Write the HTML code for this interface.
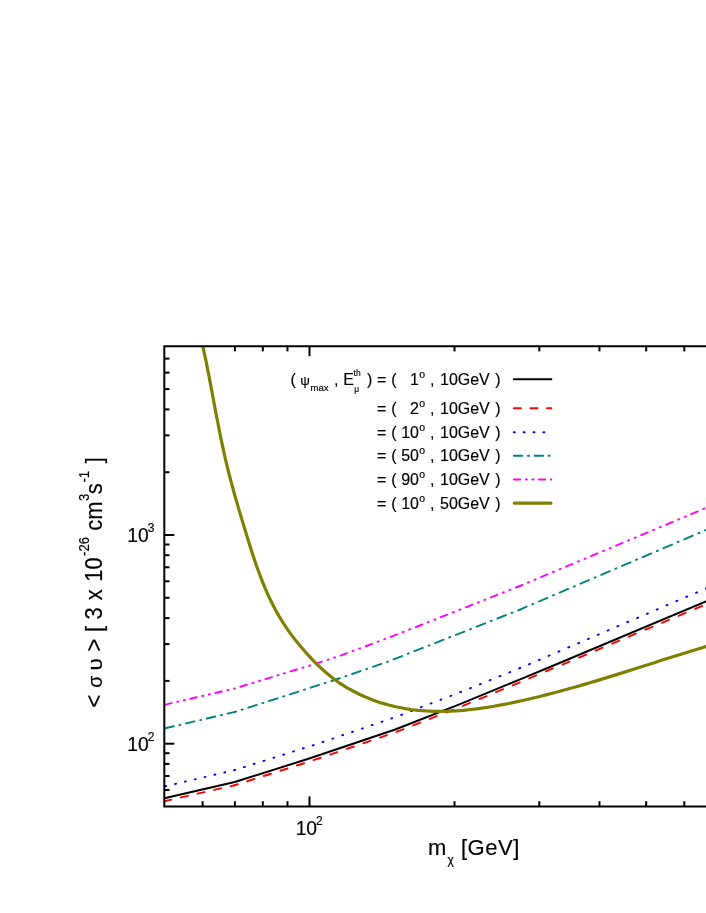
<!DOCTYPE html>
<html><head><meta charset="utf-8"><title>chart</title>
<style>
html,body{margin:0;padding:0;background:#fff;}
body{width:706px;height:913px;overflow:hidden;font-family:"Liberation Sans",sans-serif;}
#wrap{position:absolute;left:0;top:0;width:706px;height:913px;will-change:transform;}
svg{display:block;}
text{font-family:"Liberation Sans",sans-serif;fill:#000;stroke:#000;stroke-width:0.18px;}
</style></head><body><div id="wrap">
<svg width="706" height="913" viewBox="0 0 706 913">
<defs><clipPath id="plot"><rect x="164.3" y="346.2" width="635.7" height="460.2"/></clipPath></defs>

<g clip-path="url(#plot)" fill="none" stroke-linejoin="round">
<path d="M164.30,704.80 L235.00,688.40" pathLength="70.70" stroke="#ff00ff" stroke-width="1.9" stroke-dasharray="6.45 5.48 1.08 5.48 1.08 5.48" stroke-dashoffset="-0.95" stroke-linecap="round"/>
<path d="M235.00,688.40 L310.00,665.50" pathLength="75.00" stroke="#ff00ff" stroke-width="1.9" stroke-dasharray="6.45 5.48 1.08 5.48 1.08 5.48" stroke-dashoffset="69.75" stroke-linecap="round"/>
<path d="M310.00,665.50 L340.00,655.80" pathLength="30.00" stroke="#ff00ff" stroke-width="1.9" stroke-dasharray="6.45 5.48 1.08 5.48 1.08 5.48" stroke-dashoffset="144.75" stroke-linecap="round"/>
<path d="M340.00,655.80 L390.00,637.20" pathLength="50.00" stroke="#ff00ff" stroke-width="1.9" stroke-dasharray="6.45 5.48 1.08 5.48 1.08 5.48" stroke-dashoffset="174.75" stroke-linecap="round"/>
<path d="M390.00,637.20 L520.00,585.90" pathLength="130.00" stroke="#ff00ff" stroke-width="1.9" stroke-dasharray="6.45 5.48 1.08 5.48 1.08 5.48" stroke-dashoffset="224.75" stroke-linecap="round"/>
<path d="M520.00,585.90 L706.00,507.90" pathLength="186.00" stroke="#ff00ff" stroke-width="1.9" stroke-dasharray="6.45 5.48 1.08 5.48 1.08 5.48" stroke-dashoffset="354.75" stroke-linecap="round"/>
<path d="M706.00,507.90 L712.00,505.38" pathLength="6.00" stroke="#ff00ff" stroke-width="1.9" stroke-dasharray="6.45 5.48 1.08 5.48 1.08 5.48" stroke-dashoffset="540.75" stroke-linecap="round"/>
<path d="M164.30,728.50 L235.00,711.90" pathLength="70.70" stroke="#008080" stroke-width="1.9" stroke-dasharray="8.50 5.60 1.06 5.60" stroke-dashoffset="-0.95" stroke-linecap="round"/>
<path d="M235.00,711.90 L310.00,687.90" pathLength="75.00" stroke="#008080" stroke-width="1.9" stroke-dasharray="8.50 5.60 1.06 5.60" stroke-dashoffset="69.75" stroke-linecap="round"/>
<path d="M310.00,687.90 L340.00,678.20" pathLength="30.00" stroke="#008080" stroke-width="1.9" stroke-dasharray="8.50 5.60 1.06 5.60" stroke-dashoffset="144.75" stroke-linecap="round"/>
<path d="M340.00,678.20 L388.60,661.40" pathLength="48.60" stroke="#008080" stroke-width="1.9" stroke-dasharray="8.50 5.60 1.06 5.60" stroke-dashoffset="174.75" stroke-linecap="round"/>
<path d="M388.60,661.40 L520.00,609.60" pathLength="131.40" stroke="#008080" stroke-width="1.9" stroke-dasharray="8.50 5.60 1.06 5.60" stroke-dashoffset="223.35" stroke-linecap="round"/>
<path d="M520.00,609.60 L706.00,530.00" pathLength="186.00" stroke="#008080" stroke-width="1.9" stroke-dasharray="8.50 5.60 1.06 5.60" stroke-dashoffset="354.75" stroke-linecap="round"/>
<path d="M706.00,530.00 L712.00,527.43" pathLength="6.00" stroke="#008080" stroke-width="1.9" stroke-dasharray="8.50 5.60 1.06 5.60" stroke-dashoffset="540.75" stroke-linecap="round"/>
<path d="M164.30,786.50 L234.80,770.00" pathLength="70.50" stroke="#0000ff" stroke-width="1.9" stroke-dasharray="1.00 8.83" stroke-dashoffset="-0.95" stroke-linecap="round"/>
<path d="M234.80,770.00 L314.00,745.00" pathLength="79.20" stroke="#0000ff" stroke-width="1.9" stroke-dasharray="1.00 8.83" stroke-dashoffset="69.55" stroke-linecap="round"/>
<path d="M314.00,745.00 L395.20,717.20" pathLength="81.20" stroke="#0000ff" stroke-width="1.9" stroke-dasharray="1.00 8.83" stroke-dashoffset="148.75" stroke-linecap="round"/>
<path d="M395.20,717.20 L460.00,692.30" pathLength="64.80" stroke="#0000ff" stroke-width="1.9" stroke-dasharray="1.00 8.83" stroke-dashoffset="229.95" stroke-linecap="round"/>
<path d="M460.00,692.30 L520.00,668.10" pathLength="60.00" stroke="#0000ff" stroke-width="1.9" stroke-dasharray="1.00 8.83" stroke-dashoffset="294.75" stroke-linecap="round"/>
<path d="M520.00,668.10 L550.00,655.30" pathLength="30.00" stroke="#0000ff" stroke-width="1.9" stroke-dasharray="1.00 8.83" stroke-dashoffset="354.75" stroke-linecap="round"/>
<path d="M550.00,655.30 L706.00,588.50" pathLength="156.00" stroke="#0000ff" stroke-width="1.9" stroke-dasharray="1.00 8.83" stroke-dashoffset="384.75" stroke-linecap="round"/>
<path d="M706.00,588.50 L712.00,585.93" pathLength="6.00" stroke="#0000ff" stroke-width="1.9" stroke-dasharray="1.00 8.83" stroke-dashoffset="540.75" stroke-linecap="round"/>
<path d="M164.30,801.20 L234.80,785.20" pathLength="70.50" stroke="#ff0000" stroke-width="1.9" stroke-dasharray="7.10 9.49" stroke-dashoffset="0.05" stroke-linecap="round"/>
<path d="M234.80,785.20 L310.00,761.40" pathLength="75.20" stroke="#ff0000" stroke-width="1.9" stroke-dasharray="7.10 9.49" stroke-dashoffset="70.55" stroke-linecap="round"/>
<path d="M310.00,761.40 L395.20,732.40" pathLength="85.20" stroke="#ff0000" stroke-width="1.9" stroke-dasharray="7.10 9.49" stroke-dashoffset="145.75" stroke-linecap="round"/>
<path d="M395.20,732.40 L454.00,709.50" pathLength="58.80" stroke="#ff0000" stroke-width="1.9" stroke-dasharray="7.10 9.49" stroke-dashoffset="230.95" stroke-linecap="round"/>
<path d="M454.00,709.50 L520.00,682.30" pathLength="66.00" stroke="#ff0000" stroke-width="1.9" stroke-dasharray="7.10 9.49" stroke-dashoffset="289.75" stroke-linecap="round"/>
<path d="M520.00,682.30 L706.00,604.30" pathLength="186.00" stroke="#ff0000" stroke-width="1.9" stroke-dasharray="7.10 9.49" stroke-dashoffset="355.75" stroke-linecap="round"/>
<path d="M706.00,604.30 L712.00,601.78" pathLength="6.00" stroke="#ff0000" stroke-width="1.9" stroke-dasharray="7.10 9.49" stroke-dashoffset="541.75" stroke-linecap="round"/>
<path d="M164.3,798.3 L234.8,782.0 L310.0,758.3 L395.2,729.5 L460.0,704.1 L520.0,679.4 L550.0,667.0 L706.0,601.3 L712.0,598.8" stroke="#000" stroke-width="2"/>
<path d="M200.4,335.2 L202.8,346.3 L204.4,353.7 L206.0,361.2 L207.5,368.6 L209.0,376.1 L210.4,383.6 L211.8,391.0 L213.2,398.5 L214.6,406.0 L216.0,413.5 L217.5,421.0 L218.9,428.4 L220.4,435.9 L222.0,443.3 L223.6,450.8 L225.2,458.2 L227.0,465.6 L228.8,473.0 L230.7,480.3 L232.7,487.6 L234.7,495.0 L236.8,502.3 L238.9,509.6 L241.1,516.8 L243.3,524.1 L245.5,531.4 L247.7,538.7 L250.0,546.0 L252.3,553.3 L254.7,560.5 L257.2,567.7 L259.8,574.8 L262.5,581.9 L265.4,588.9 L268.5,595.9 L271.8,602.7 L275.3,609.5 L279.0,616.1 L283.0,622.6 L287.1,628.9 L291.6,635.1 L296.2,641.1 L301.1,647.0 L306.1,652.7 L311.2,658.3 L316.5,663.8 L322.0,669.0 L327.7,674.0 L333.6,678.7 L339.8,683.2 L346.3,687.3 L352.9,691.0 L359.8,694.5 L366.8,697.6 L374.0,700.4 L381.2,702.9 L388.5,705.0 L395.9,706.8 L403.3,708.3 L410.7,709.5 L418.2,710.3 L425.7,710.9 L433.2,711.3 L440.8,711.4 L448.3,711.2 L455.9,710.8 L463.5,710.3 L471.0,709.5 L478.6,708.6 L486.2,707.5 L493.7,706.3 L501.3,704.9 L508.8,703.5 L516.3,701.9 L523.8,700.2 L531.2,698.5 L538.7,696.7 L546.0,694.9 L553.4,693.0 L560.7,691.0 L568.1,689.0 L575.4,687.0 L582.7,684.9 L589.9,682.7 L597.2,680.6 L604.4,678.4 L611.7,676.1 L618.9,673.9 L626.2,671.6 L633.4,669.3 L640.6,667.0 L647.9,664.7 L655.1,662.4 L662.3,660.1 L669.6,657.8 L676.9,655.5 L684.2,653.2 L691.4,650.9 L698.8,648.7 L706.1,646.5 L717.1,643.1" stroke="#808000" stroke-width="3.2"/>
</g>
<g stroke="#000" stroke-width="2.0" fill="none" stroke-linecap="butt">
<path d="M711,346.2 L164.3,346.2 L164.3,806.4 L711,806.4" stroke-linejoin="miter"/>
<path d="M202.6,806.4 v-5.2"/>
<path d="M234.9,806.4 v-5.2"/>
<path d="M234.9,346.2 v5.2"/>
<path d="M262.8,806.4 v-5.2"/>
<path d="M262.8,346.2 v5.2"/>
<path d="M287.5,806.4 v-5.2"/>
<path d="M287.5,346.2 v5.2"/>
<path d="M309.5,806.4 v-10.0"/>
<path d="M309.5,346.2 v10.0"/>
<path d="M454.5,806.4 v-5.2"/>
<path d="M454.5,346.2 v5.2"/>
<path d="M539.3,806.4 v-5.2"/>
<path d="M539.3,346.2 v5.2"/>
<path d="M599.5,806.4 v-5.2"/>
<path d="M599.5,346.2 v5.2"/>
<path d="M646.2,806.4 v-5.2"/>
<path d="M646.2,346.2 v5.2"/>
<path d="M684.3,806.4 v-5.2"/>
<path d="M684.3,346.2 v5.2"/>
<path d="M164.3,790.0 h5.2"/>
<path d="M164.3,776.0 h5.2"/>
<path d="M164.3,763.9 h5.2"/>
<path d="M164.3,753.2 h5.2"/>
<path d="M164.3,743.7 h10.0"/>
<path d="M164.3,680.9 h5.2"/>
<path d="M164.3,644.1 h5.2"/>
<path d="M164.3,618.1 h5.2"/>
<path d="M164.3,597.8 h5.2"/>
<path d="M164.3,581.3 h5.2"/>
<path d="M164.3,567.3 h5.2"/>
<path d="M164.3,555.2 h5.2"/>
<path d="M164.3,544.5 h5.2"/>
<path d="M164.3,535.0 h10.0"/>
<path d="M164.3,472.2 h5.2"/>
<path d="M164.3,435.4 h5.2"/>
<path d="M164.3,409.4 h5.2"/>
<path d="M164.3,389.1 h5.2"/>
<path d="M164.3,372.6 h5.2"/>
<path d="M164.3,358.6 h5.2"/>
</g>
<text x="148.7" y="542.2" font-size="19.3" text-anchor="end">10</text><text x="147.7" y="532.2" font-size="12">3</text>
<text x="148.7" y="751.0" font-size="19.3" text-anchor="end">10</text><text x="147.7" y="741.0" font-size="12">2</text>
<text x="317.1" y="835.0" font-size="19.3" text-anchor="end">10</text><text x="316.1" y="825.0" font-size="12">2</text>
<text x="428" y="854.8" font-size="22" letter-spacing="0.5">m</text>
<text x="447.6" y="864.0" font-size="12">χ</text>
<text x="461" y="854.8" font-size="22" letter-spacing="0.5">[GeV]</text>
<g transform="translate(102.0,706.5) rotate(-90)">
<text transform="translate(-1.1,0) scale(0.94,1)" font-size="23.3" text-anchor="start">&lt;</text>
<text transform="translate(18.8,0) scale(1,1)" font-size="19.5" text-anchor="start">σ</text>
<text transform="translate(36.0,0) scale(1.15,1)" font-size="19.5" text-anchor="start">υ</text>
<text transform="translate(54.9,0) scale(0.94,1)" font-size="23.3" text-anchor="start">&gt;</text>
<text transform="translate(74.4,0) scale(0.94,1)" font-size="23.3" text-anchor="start">[</text>
<text transform="translate(87.1,0) scale(0.94,1)" font-size="23.3" text-anchor="start">3</text>
<text transform="translate(106.3,0) scale(0.94,1)" font-size="23.3" text-anchor="start">x</text>
<text transform="translate(149.1,0) scale(0.94,1)" font-size="23.3" text-anchor="end">10</text>
<text transform="translate(150.5,-13) scale(0.94,1)" font-size="14" text-anchor="start">-26</text>
<text transform="translate(175.8,0) scale(0.94,1)" font-size="23.3" text-anchor="start">cm</text>
<text transform="translate(205.4,-13) scale(0.94,1)" font-size="14" text-anchor="start">3</text>
<text transform="translate(212.3,0) scale(0.94,1)" font-size="23.3" text-anchor="start">s</text>
<text transform="translate(223.9,-13) scale(0.94,1)" font-size="14" text-anchor="start">-1</text>
<text transform="translate(243.2,0) scale(0.94,1)" font-size="23.3" text-anchor="start">]</text>
</g>
<text transform="translate(290.5,384.8) scale(0.94,1)" font-size="17" text-anchor="start">(</text>
<text x="300.3" y="385.40000000000003" font-size="13.5">ψ</text>
<text x="310.5" y="391.1" font-size="9.5">max</text>
<text transform="translate(334,384.8) scale(0.94,1)" font-size="17" text-anchor="start">,</text>
<text transform="translate(343.3,384.8) scale(0.94,1)" font-size="17" text-anchor="start">E</text>
<text transform="translate(353.6,375.8) scale(0.94,1)" font-size="9" text-anchor="start">th</text>
<text x="354.3" y="391.8" font-size="8.5">μ</text>
<text transform="translate(367,384.8) scale(0.94,1)" font-size="17" text-anchor="start">)</text>
<text transform="translate(376.9,384.8) scale(0.94,1)" font-size="17" text-anchor="start">=</text>
<text transform="translate(391.3,384.8) scale(0.94,1)" font-size="17" text-anchor="start">(</text>
<text transform="translate(419.0,384.8) scale(0.94,1)" font-size="17" text-anchor="end">1</text>
<text x="419.3" y="377.6" font-size="10.5">o</text>
<text transform="translate(430.0,384.8) scale(0.94,1)" font-size="17" text-anchor="start">,</text>
<text transform="translate(440.0,384.8) scale(0.94,1)" font-size="17" text-anchor="start">10GeV</text>
<text transform="translate(495.3,384.8) scale(0.94,1)" font-size="17" text-anchor="start">)</text>
<text transform="translate(376.9,413.8) scale(0.94,1)" font-size="17" text-anchor="start">=</text>
<text transform="translate(391.3,413.8) scale(0.94,1)" font-size="17" text-anchor="start">(</text>
<text transform="translate(419.0,413.8) scale(0.94,1)" font-size="17" text-anchor="end">2</text>
<text x="419.3" y="406.6" font-size="10.5">o</text>
<text transform="translate(430.0,413.8) scale(0.94,1)" font-size="17" text-anchor="start">,</text>
<text transform="translate(440.0,413.8) scale(0.94,1)" font-size="17" text-anchor="start">10GeV</text>
<text transform="translate(495.3,413.8) scale(0.94,1)" font-size="17" text-anchor="start">)</text>
<text transform="translate(376.9,437.7) scale(0.94,1)" font-size="17" text-anchor="start">=</text>
<text transform="translate(391.3,437.7) scale(0.94,1)" font-size="17" text-anchor="start">(</text>
<text transform="translate(419.0,437.7) scale(0.94,1)" font-size="17" text-anchor="end">10</text>
<text x="419.3" y="430.5" font-size="10.5">o</text>
<text transform="translate(430.0,437.7) scale(0.94,1)" font-size="17" text-anchor="start">,</text>
<text transform="translate(440.0,437.7) scale(0.94,1)" font-size="17" text-anchor="start">10GeV</text>
<text transform="translate(495.3,437.7) scale(0.94,1)" font-size="17" text-anchor="start">)</text>
<text transform="translate(376.9,461.3) scale(0.94,1)" font-size="17" text-anchor="start">=</text>
<text transform="translate(391.3,461.3) scale(0.94,1)" font-size="17" text-anchor="start">(</text>
<text transform="translate(419.0,461.3) scale(0.94,1)" font-size="17" text-anchor="end">50</text>
<text x="419.3" y="454.1" font-size="10.5">o</text>
<text transform="translate(430.0,461.3) scale(0.94,1)" font-size="17" text-anchor="start">,</text>
<text transform="translate(440.0,461.3) scale(0.94,1)" font-size="17" text-anchor="start">10GeV</text>
<text transform="translate(495.3,461.3) scale(0.94,1)" font-size="17" text-anchor="start">)</text>
<text transform="translate(376.9,485.0) scale(0.94,1)" font-size="17" text-anchor="start">=</text>
<text transform="translate(391.3,485.0) scale(0.94,1)" font-size="17" text-anchor="start">(</text>
<text transform="translate(419.0,485.0) scale(0.94,1)" font-size="17" text-anchor="end">90</text>
<text x="419.3" y="477.8" font-size="10.5">o</text>
<text transform="translate(430.0,485.0) scale(0.94,1)" font-size="17" text-anchor="start">,</text>
<text transform="translate(440.0,485.0) scale(0.94,1)" font-size="17" text-anchor="start">10GeV</text>
<text transform="translate(495.3,485.0) scale(0.94,1)" font-size="17" text-anchor="start">)</text>
<text transform="translate(376.9,508.7) scale(0.94,1)" font-size="17" text-anchor="start">=</text>
<text transform="translate(391.3,508.7) scale(0.94,1)" font-size="17" text-anchor="start">(</text>
<text transform="translate(419.0,508.7) scale(0.94,1)" font-size="17" text-anchor="end">10</text>
<text x="419.3" y="501.5" font-size="10.5">o</text>
<text transform="translate(430.0,508.7) scale(0.94,1)" font-size="17" text-anchor="start">,</text>
<text transform="translate(440.0,508.7) scale(0.94,1)" font-size="17" text-anchor="start">50GeV</text>
<text transform="translate(495.3,508.7) scale(0.94,1)" font-size="17" text-anchor="start">)</text>
<path d="M512.9,379.2 H552.2" stroke="#000" stroke-width="2" fill="none"/>
<path d="M512.9,408.3 H551.3000000000001" stroke="#ff0000" stroke-width="1.9" fill="none" stroke-dasharray="7.10 9.49" stroke-dashoffset="-0.95" stroke-linecap="round"/>
<path d="M512.9,432.2 H551.3000000000001" stroke="#0000ff" stroke-width="1.9" fill="none" stroke-dasharray="1.00 8.83" stroke-dashoffset="-0.95" stroke-linecap="round"/>
<path d="M512.9,455.8 H551.3000000000001" stroke="#008080" stroke-width="1.9" fill="none" stroke-dasharray="8.50 5.60 1.06 5.60" stroke-dashoffset="-0.95" stroke-linecap="round"/>
<path d="M512.9,479.5 H551.3000000000001" stroke="#ff00ff" stroke-width="1.9" fill="none" stroke-dasharray="6.45 5.48 1.08 5.48 1.08 5.48" stroke-dashoffset="-0.95" stroke-linecap="round"/>
<path d="M514.4,503.2 H550.8000000000001" stroke="#808000" stroke-width="3.2" fill="none" stroke-linecap="round"/>
</svg></div></body></html>
